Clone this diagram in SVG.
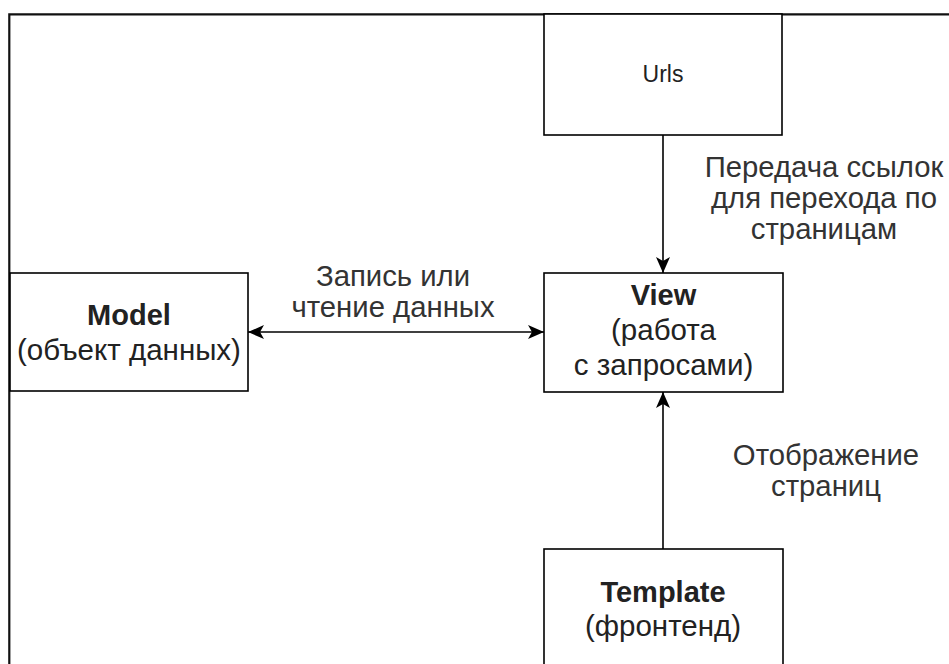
<svg xmlns="http://www.w3.org/2000/svg" width="949" height="664" viewBox="0 0 949 664">
<style>
.box{fill:#fff;stroke:#000;stroke-width:1.6}
.t{font-family:"Liberation Sans",Arial,sans-serif;font-size:29.5px;fill:#222;text-anchor:middle}
.b{font-weight:bold;font-size:29px}
.lbl{font-family:"Liberation Sans",Arial,sans-serif;font-size:29.3px;fill:#333;text-anchor:middle}
.edge{fill:none;stroke:#000;stroke-width:1.6}
</style>
<defs>
<marker id="ah" viewBox="0 0 16 14" refX="16" refY="7" markerWidth="16" markerHeight="14" markerUnits="userSpaceOnUse" orient="auto-start-reverse">
<path d="M0,0 L16,7 L0,14 L4,7 Z" fill="#000"/>
</marker>
</defs>
<rect x="0" y="0" width="949" height="664" fill="#fff"/>
<path d="M9.3,664 V14.3 H949" fill="none" stroke="#111" stroke-width="2.2"/>
<g id="connectors">
<path class="edge" d="M663,135 V273" marker-end="url(#ah)"/>
<path class="edge" d="M663,549 V392" marker-end="url(#ah)"/>
<path class="edge" d="M248,332 H544" marker-start="url(#ah)" marker-end="url(#ah)"/>
<text class="lbl" x="824" y="177">Передача ссылок</text>
<text class="lbl" x="824" y="208">для перехода по</text>
<text class="lbl" x="824" y="239">страницам</text>
<text class="lbl" x="393" y="286">Запись или</text>
<text class="lbl" x="393" y="317">чтение данных</text>
<text class="lbl" x="826" y="465">Отображение</text>
<text class="lbl" x="826" y="496">страниц</text>
</g>
<g id="urls">
<rect class="box" x="544" y="14" width="238" height="121"/>
<text class="t" x="663" y="82" style="font-size:23px">Urls</text>
</g>
<g id="model">
<rect class="box" x="10" y="273" width="238" height="118"/>
<text class="t b" x="129" y="325">Model</text>
<text class="t" x="129" y="360">(объект данных)</text>
</g>
<g id="view">
<rect class="box" x="544" y="273" width="239" height="119"/>
<text class="t b" x="663.5" y="305">View</text>
<text class="t" x="663.5" y="340">(работа</text>
<text class="t" x="663.5" y="375">с запросами)</text>
</g>
<g id="template">
<rect class="box" x="544" y="549" width="239" height="130"/>
<text class="t b" x="663" y="602">Template</text>
<text class="t" x="663" y="636">(фронтенд)</text>
</g>
</svg>
